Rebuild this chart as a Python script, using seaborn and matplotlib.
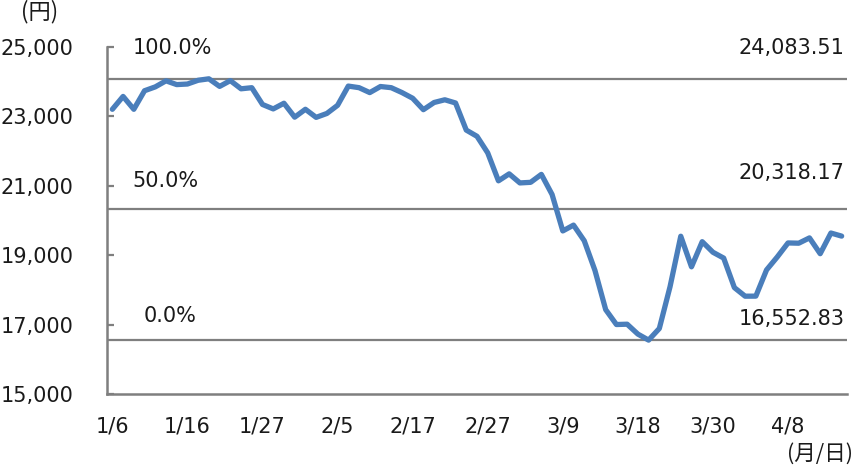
import matplotlib
matplotlib.use("Agg")
import matplotlib.pyplot as plt
import seaborn as sns
import pandas as pd
from matplotlib.ticker import FuncFormatter, FixedLocator

dates = ["1/6","1/7","1/8","1/9","1/10","1/14","1/15","1/16","1/17","1/20",
         "1/21","1/22","1/23","1/24","1/27","1/28","1/29","1/30","1/31","2/3",
         "2/4","2/5","2/6","2/7","2/10","2/12","2/13","2/14","2/17","2/18",
         "2/19","2/20","2/21","2/25","2/26","2/27","2/28","3/2","3/3","3/4",
         "3/5","3/6","3/9","3/10","3/11","3/12","3/13","3/16","3/17","3/18",
         "3/19","3/23","3/24","3/25","3/26","3/27","3/30","3/31","4/1","4/2",
         "4/3","4/6","4/7","4/8","4/9","4/10","4/13","4/14","4/15"]
close = [23204.86,23575.72,23204.76,23739.87,23850.57,24025.17,23916.58,23933.13,24041.26,24083.51,
         23864.56,24031.35,23795.44,23827.18,23343.51,23215.71,23379.40,22977.75,23205.18,22971.94,
         23084.59,23319.56,23873.59,23827.98,23685.98,23861.21,23827.73,23687.59,23523.24,23193.80,
         23400.70,23479.15,23386.74,22605.41,22426.19,21948.23,21142.96,21344.08,21082.73,21100.06,
         21329.12,20749.75,19698.76,19867.12,19416.06,18559.63,17431.05,17002.04,17011.53,16726.55,
         16552.83,16887.78,18092.35,19546.63,18664.60,19389.43,19084.97,18917.01,18065.41,17818.72,
         17820.19,18576.30,18950.18,19353.24,19345.77,19498.50,19043.40,19638.81,19550.09]
level_values = [24083.51, 20318.17, 16552.83]
level_pct = ["100.0%", "50.0%", "0.0%"]
level_text = ["24,083.51", "20,318.17", "16,552.83"]
shown_labels = ["1/6","1/16","1/27","2/5","2/17","2/27","3/9","3/18","3/30","4/8"]
y_ticks = [15000, 17000, 19000, 21000, 23000, 25000]

sns.set_style("white")
plt.rcParams['font.family'] = ['DejaVu Sans', 'Noto Sans CJK JP']

df = pd.DataFrame({"idx": list(range(len(dates))), "close": close, "date": dates})

fig = plt.figure(figsize=(8.6, 4.67), dpi=100)
ax = fig.add_axes([107/860, 1-394/467, (847-107)/860, (394-47)/467])

grey = "#7f7f7f"
txt = "#1a1a1a"
for v in level_values:
    ax.axhline(v, color=grey, lw=1.6, zorder=1)

sns.lineplot(data=df, x="idx", y="close", ax=ax, color="#4a7ebb", lw=3.8, zorder=3)

ax.set_xlim(-0.5, len(dates) - 0.5)
ax.set_ylim(15000, 25000)

pos = [dates.index(d) for d in shown_labels]
ax.xaxis.set_major_locator(FixedLocator(pos))
ax.set_xticklabels(shown_labels)
ax.xaxis.set_minor_locator(FixedLocator([p + 6.5 for p in pos[:-1]]))
ax.tick_params(axis="x", which="major", length=0, pad=16, labelsize=15, labelcolor=txt)
ax.tick_params(axis="x", which="minor", length=5, width=1.6, direction="in", color=grey)

ax.set_yticks(y_ticks)
ax.yaxis.set_major_formatter(FuncFormatter(lambda v, p: f"{int(v):,}"))
ax.tick_params(axis="y", length=5, width=1.6, direction="in", color=grey, pad=24,
               labelsize=15, labelcolor=txt, left=True)

for s in ["top", "right"]:
    ax.spines[s].set_visible(False)
for s in ["left", "bottom"]:
    ax.spines[s].set_color(grey)
    ax.spines[s].set_linewidth(1.8)

ax.set_xlabel("")
ax.set_ylabel("")

pct_x = [1.9, 1.9, 2.9]
pct_dy = [880, 820, 700]
for v, t, x, dy in zip(level_values, level_pct, pct_x, pct_dy):
    ax.text(x, v + dy, t, fontsize=15, color=txt, ha="left", va="center")
for v, t, dy in zip(level_values, level_text, [880, 1050, 620]):
    ax.text(68.3, v + dy, t, fontsize=15, color=txt, ha="right", va="center")

fig.text(21/860, 1-12/467, "(円)", fontsize=16, family=['Noto Sans CJK JP', 'DejaVu Sans'],
         ha="left", va="center", color=txt)
fig.text(853/860, 1-454/467, "(月/日)", fontsize=15.5, family=['Noto Sans CJK JP', 'DejaVu Sans'],
         ha="right", va="center", color=txt)

fig.savefig("out.png", dpi=100)
